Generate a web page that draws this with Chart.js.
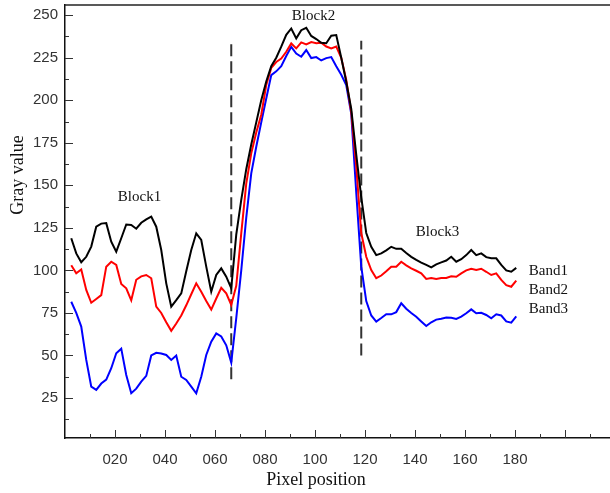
<!DOCTYPE html>
<html>
<head>
<meta charset="utf-8">
<script src="https://cdn.jsdelivr.net/npm/chart.js@4.4.1/dist/chart.umd.min.js"></script>
<style>
  html, body { margin: 0; padding: 0; background: #fff; }
  #wrap { width: 610px; height: 493px; }
</style>
</head>
<body>
<div id="wrap"><canvas id="profile" width="610" height="493"></canvas></div>
<script>
// pixel positions along the profile
const positions = [2.5, 4.5, 6.5, 8.5, 10.5, 12.5, 14.5, 16.5, 18.5, 20.5,
  22.5, 24.5, 26.5, 28.5, 30.5, 32.5, 34.5, 36.5, 38.5, 40.5,
  42.5, 44.5, 46.5, 48.5, 50.5, 52.5, 54.5, 56.5, 58.5, 60.5,
  62.5, 64.5, 66.5, 68.5, 70.5, 72.5, 74.5, 76.5, 78.5, 80.5,
  82.5, 84.5, 86.5, 88.5, 90.5, 92.5, 94.5, 96.5, 98.5, 100.5,
  102.5, 104.5, 106.5, 108.5, 110.5, 112.5, 114.5, 116.5, 118.5, 120.5,
  122.5, 124.5, 126.5, 128.5, 130.5, 132.5, 134.5, 136.5, 138.5, 140.5,
  142.5, 144.5, 146.5, 148.5, 150.5, 152.5, 154.5, 156.5, 158.5, 160.5,
  162.5, 164.5, 166.5, 168.5, 170.5, 172.5, 174.5, 176.5, 178.5, 180.5];

const band1 = [118.9, 110, 104.8, 108, 114, 125.7, 127.5, 127.8, 116.9, 111,
  118.9, 127, 126.7, 124.5, 128, 130, 131.6, 125.7, 112, 92.4,
  78.7, 82.5, 86.5, 99.5, 112, 121.8, 117.9, 102.2, 87.5, 97.3,
  101.2, 96.3, 89.5, 121, 141.4, 159.5, 174, 187, 200, 211,
  220, 225, 231.5, 238.5, 242.2, 236.4, 241.2, 242.6, 237.8, 236,
  233.8, 233.5, 237.9, 238.3, 225, 210.9, 195, 168, 143, 122,
  113.9, 109, 110, 111.8, 113.9, 112.7, 112.7, 110.2, 108, 106.2,
  104.6, 103.2, 101.8, 103.6, 104.7, 105.8, 108, 105.1, 106.6, 109,
  112, 109, 110, 107.8, 107.1, 107.1, 103.2, 100, 99.2, 101.5];

const band2 = [103, 98.3, 100.5, 88.5, 81, 83.2, 85.5, 102.2, 105.1, 103.2,
  92, 89.5, 82.4, 94.5, 96.5, 97.3, 95.4, 78.7, 75, 69.5,
  64.5, 68.8, 73.5, 79.5, 86, 92.4, 87.5, 82, 77, 83.5,
  89.8, 86.5, 79.7, 91, 121.8, 151, 168.8, 181, 191.5, 209,
  219, 222.5, 224.5, 228.5, 233.4, 230.5, 234, 232.8, 234.2, 233.5,
  233.8, 231.6, 230.5, 231.6, 225, 212, 193, 161, 122, 108,
  100.2, 95.4, 97, 99.5, 102.2, 102.2, 105.1, 103, 101.2, 99.8,
  98.3, 95, 95.5, 95, 95.5, 95.5, 96.5, 96.3, 98.3, 100,
  101, 100.2, 101, 99.2, 97.3, 98.3, 94.4, 91.3, 90.4, 94];

const band3 = [81.6, 75, 67, 47.4, 31.7, 29.8, 33.5, 35.8, 42.5, 51.3,
  54, 38.5, 27.8, 30.5, 34.6, 38, 50, 51.6, 51.2, 50.3,
  47.4, 50, 37.5, 35.6, 31.7, 27.8, 37.5, 50.3, 58.1, 63,
  61.2, 56, 45.8, 72, 100, 131, 157, 172.7, 187, 201,
  214.8, 217, 220, 226, 231.4, 227.5, 225.6, 229.5, 224.8, 225.4,
  223.4, 224.8, 225.4, 220, 215, 208.9, 192, 145.7, 102.2, 82,
  73.5, 69.9, 72, 74.2, 74.2, 75.5, 80.7, 77.5, 75, 72.8,
  70, 67.3, 69.5, 71.1, 71.6, 72.3, 72.2, 71.5, 72.8, 74.8,
  77.1, 74.8, 75.1, 73.8, 71.9, 74.2, 73.5, 70, 69.3, 73];

const bandNames = ['Band1', 'Band2', 'Band3'];
const bandColors = ['#000000', '#ff0000', '#0000ff'];

// block boundaries (dashed) and their vertical extent
const boundaryX = [66.5, 118.5];
const boundaryLow = [36, 50];
const boundaryHigh = [235, 235];

// text placed in data coordinates
const blockNames = ['Block1', 'Block2', 'Block3'];
const blockX = [29.8, 99.4, 149];
const blockY = [143, 249.5, 122.3];
const bandLabelX = 185.5;
const bandLabelY = [99.7, 88.5, 77.3];

// axis ticks: x labelled 020..180, y labelled 25..250, minor marks in between
const xTicks = [10, 20, 30, 40, 50, 60, 70, 80, 90, 100, 110, 120, 130, 140, 150, 160, 170, 180, 190, 200, 210];
const xLabels = [20, 40, 60, 80, 100, 120, 140, 160, 180];
const yTicks = [12.5, 25, 37.5, 50, 62.5, 75, 87.5, 100, 112.5, 125, 137.5, 150, 162.5, 175, 187.5, 200, 212.5, 225, 237.5, 250];
const yLabels = [25, 50, 75, 100, 125, 150, 175, 200, 225, 250];

const pts = vals => vals.map((v, i) => ({ x: positions[i], y: v }));

const datasets = [band1, band2, band3].map((vals, i) => ({
  label: bandNames[i],
  data: pts(vals),
  borderColor: bandColors[i],
  borderWidth: 2,
  pointRadius: 0,
  tension: 0,
  fill: false
}));

boundaryX.forEach((bx, i) => {
  datasets.push({
    label: 'boundary' + (i + 1),
    data: [{ x: bx, y: boundaryLow[i] }, { x: bx, y: boundaryHigh[i] }],
    borderColor: '#333',
    borderWidth: 2,
    borderDash: [12, 5],
    pointRadius: 0,
    fill: false
  });
});

const frame = {
  id: 'frame',
  afterDraw(chart) {
    const { ctx, chartArea, scales: { x, y } } = chart;
    const { left, right, top, bottom } = chartArea;
    ctx.save();

    // top border
    ctx.strokeStyle = '#222';
    ctx.lineWidth = 1.5;
    ctx.beginPath();
    ctx.moveTo(left, top);
    ctx.lineTo(right, top);
    ctx.stroke();

    // inward tick marks
    ctx.strokeStyle = '#333';
    ctx.lineWidth = 1;
    x.ticks.forEach(t => {
      const px = Math.round(x.getPixelForValue(t.value)) + 0.5;
      const len = xLabels.includes(t.value) || t.value === 200 ? 8 : 4;
      ctx.beginPath();
      ctx.moveTo(px, bottom);
      ctx.lineTo(px, bottom - len);
      ctx.stroke();
    });
    y.ticks.forEach(t => {
      const py = Math.round(y.getPixelForValue(t.value)) + 0.5;
      const len = yLabels.includes(t.value) ? 8 : 4;
      ctx.beginPath();
      ctx.moveTo(left, py);
      ctx.lineTo(left + len, py);
      ctx.stroke();
    });

    // block and band labels
    ctx.fillStyle = '#111';
    ctx.font = '15px "Liberation Serif"';
    ctx.textBaseline = 'middle';
    ctx.textAlign = 'center';
    blockNames.forEach((name, i) => {
      ctx.fillText(name, x.getPixelForValue(blockX[i]), y.getPixelForValue(blockY[i]));
    });
    ctx.textAlign = 'left';
    bandNames.forEach((name, i) => {
      ctx.fillText(name, x.getPixelForValue(bandLabelX), y.getPixelForValue(bandLabelY[i]));
    });

    // axis titles
    ctx.font = '18px "Liberation Serif"';
    ctx.textAlign = 'center';
    ctx.fillText('Pixel position', 316, 480);
    ctx.translate(18, 175);
    ctx.rotate(-Math.PI / 2);
    ctx.fillText('Gray value', 0, 0);

    ctx.restore();
  }
};

new Chart(document.getElementById('profile').getContext('2d'), {
  type: 'line',
  data: { datasets },
  options: {
    responsive: false,
    animation: false,
    layout: { padding: { top: 5, right: 0, bottom: 0, left: 0 } },
    plugins: { legend: { display: false }, tooltip: { enabled: false } },
    scales: {
      x: {
        type: 'linear',
        min: 0,
        max: 218,
        grid: { display: false, drawTicks: false },
        border: { display: true, color: '#111', width: 1.5 },
        afterBuildTicks: s => { s.ticks = xTicks.map(v => ({ value: v })); },
        afterFit: s => {
          s.height = 55;
          s.paddingLeft = 0;
          s.paddingRight = 0;
        },
        ticks: {
          autoSkip: false,
          maxRotation: 0,
          padding: 13,
          color: '#333',
          font: { family: '"Liberation Sans", Arial', size: 15 },
          callback: v => xLabels.includes(v) ? String(v).padStart(3, '0') : ''
        }
      },
      y: {
        min: 1.5,
        max: 256,
        grid: { display: false, drawTicks: false },
        border: { display: true, color: '#111', width: 1.5 },
        afterBuildTicks: s => { s.ticks = yTicks.map(v => ({ value: v })); },
        afterFit: s => {
          s.width = 65;
          s.paddingTop = 0;
          s.paddingBottom = 0;
        },
        ticks: {
          autoSkip: false,
          padding: 7,
          color: '#333',
          font: { family: '"Liberation Sans", Arial', size: 15 },
          callback: v => yLabels.includes(v) ? String(v) : ''
        }
      }
    }
  },
  plugins: [frame]
});
</script>
</body>
</html>
